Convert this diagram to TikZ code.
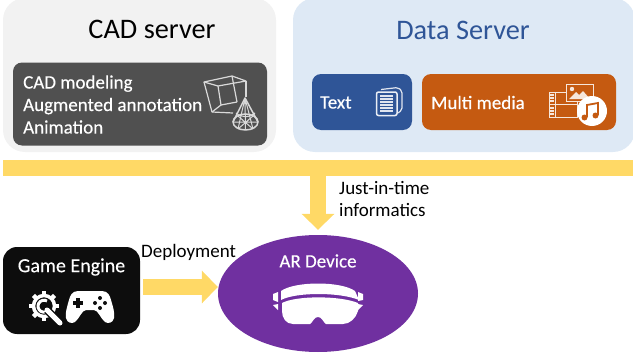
\documentclass[tikz,border=0pt]{standalone}
\usepackage{fontspec}
\setmainfont{Carlito}
\newfontfamily\heavyfont[FakeBold=0.25]{Carlito}
\usetikzlibrary{shapes.geometric,arrows.meta}
\definecolor{cadgray}{HTML}{F2F2F2}
\definecolor{cadbox}{HTML}{505050}
\definecolor{databg}{HTML}{DEE9F5}
\definecolor{datablue}{HTML}{2F5597}
\definecolor{mediaorange}{HTML}{C55A11}
\definecolor{baryellow}{HTML}{FFD966}
\definecolor{devicepurple}{HTML}{7030A0}
\definecolor{enginegray}{HTML}{0D0D0D}
\tikzset{
	server/.style={rectangle,rounded corners=22pt,inner sep=0pt},
	panel/.style={rectangle,rounded corners=9pt,inner sep=0pt},
	whitetxt/.style={text=white,inner sep=0pt,font=\heavyfont\fontsize{19}{22.5}\selectfont},
	blacktxt/.style={text=black,inner sep=0pt,font=\fontsize{19}{22}\selectfont},
	bigarrow/.style={line width=16pt,draw=baryellow,-{Triangle[length=16pt,width=32pt]}},
	wire/.style={draw=white!85!black,line width=1.2pt,line join=round},
}
\begin{document}
\begin{tikzpicture}[x=1pt,y=-1pt]
	\useasboundingbox (0,0) rectangle (633,356);
	\node [server,fill=cadgray,minimum width=273pt,minimum height=154pt] (cad) at (139.5,75) {};
	\node [server,fill=databg,minimum width=342pt,minimum height=154pt] (data) at (464,75) {};
	\node [text=black,inner sep=0pt,font=\fontsize{28.3}{30}\selectfont] (cadtitle) at (152,29) {CAD server};
	\node [text=datablue,inner sep=0pt,font=\fontsize{28.3}{30}\selectfont] (datatitle) at (463,30) {Data Server};
	\node [panel,fill=cadbox,minimum width=254pt,minimum height=83pt] (cadpanel) at (140,104) {};
	\node [panel,fill=datablue,minimum width=100pt,minimum height=56pt] (textpanel) at (362,102) {};
	\node [panel,fill=mediaorange,minimum width=194pt,minimum height=56pt] (mediapanel) at (519,102) {};
	\node [whitetxt,anchor=west,align=left] (cadtext) at (23,104.5) {CAD modeling\\Augmented annotation\\Animation};
	\node [whitetxt,anchor=west] (textlabel) at (320,102.5) {Text};
	\node [whitetxt,anchor=west] (medialabel) at (431,102.5) {Multi media};
	\node [rectangle,fill=baryellow,inner sep=0pt,minimum width=630pt,minimum height=16pt] (bar) at (318,168) {};
	\node [ellipse,fill=devicepurple,inner sep=0pt,minimum width=200pt,minimum height=117pt] (device) at (318,293.5) {};
	\node [panel,rounded corners=14pt,fill=enginegray,minimum width=137pt,minimum height=87pt] (engine) at (71.5,290.5) {};
	\node [whitetxt] (devicelabel) at (318,261) {AR Device};
	\node [whitetxt,font=\heavyfont\fontsize{20}{22}\selectfont] (enginelabel) at (71.5,267) {Game Engine};
	\node [blacktxt,anchor=west] (deploylabel) at (141,252) {Deployment};
	\node [blacktxt,anchor=west,align=left] (justlabel) at (339,199) {Just-in-time\\informatics};
	\draw [bigarrow,shorten >=5pt] (bar.south -| device.north) -- (device.north);
	\draw [bigarrow,shorten <=3pt] ([yshift=3.5pt]engine.east) -- ([yshift=3.5pt]engine.east -| device.west);
	\draw [wire] (204,82) -- (232,76) -- (246,81) -- (218,86) -- cycle;
	\draw [wire] (204,82) -- (212,112) -- (233,113);
	\draw [wire] (218,86) -- (221,105) -- (212,112);
	\draw [wire] (221,105) -- (237,102);
	\draw [wire] (232,76) -- (237,102);
	\draw [wire] (246,81) -- (246,97);
	\draw [wire,line width=1.5pt] (233,122) -- (245,98) -- (258,122);
	\draw [wire,line width=1.5pt] (245.5,122) ellipse [x radius=12.5,y radius=8];
	\draw [wire,line width=1pt] (245,98) -- (238,129) (245,98) -- (253,129) (245,98) -- (245.5,130);
	\draw [wire,line width=1pt] (236,113) .. controls (242,118) and (250,118) .. (255,113);
	\draw [wire,line width=1pt] (233,122) -- (258,122) (238,116) -- (253,129) (253,116) -- (238,129);
	\draw [white!85!datablue,line width=1.2pt,rounded corners=2pt] (381,89.5) -- (398,87.5) -- (402,91) -- (402,110) -- (398,113);
	\draw [white!90!datablue,line width=1.5pt,fill=datablue,rounded corners=2pt] (376.5,92) rectangle (397,115.5);
	\foreach \y in {96,99,102,105,108,111} {
		\draw [white!85!datablue,line width=1.3pt] (380,\y) -- (393,\y);
	}
	\draw [white!85!mediaorange,line width=1pt] (549,92) rectangle (577,117);
	\draw [white!85!mediaorange,line width=1pt] (555,92) -- (555,117) (549,104.5) -- (577,104.5);
	\foreach \y in {95,98,101,108,111,114} {
		\draw [white!85!mediaorange,line width=1.4pt] (550,\y) -- (554,\y);
	}
	\draw [white!85!mediaorange,line width=1pt,fill=mediaorange] (566,84) rectangle (593,101);
	\fill [white!85!mediaorange] (569,99) -- (576,92) -- (579,95) -- (583,91) -- (590,99) -- cycle;
	\fill [white!85!mediaorange] (572,89) circle [radius=2.2];
	\fill [white] (592,111) circle [radius=15];
	\draw [mediaorange,line width=1.8pt] (587,117) -- (587,105) -- (598,103) -- (598,115);
	\fill [mediaorange] (584.5,117.5) circle [radius=3] (595.5,115.5) circle [radius=3];
	\foreach \a in {0,45,...,315} {
		\draw [white,line width=4.5pt] (44,306) ++(\a:11) -- ++(\a:4);
	}
	\draw [white,line width=3.5pt] (44,306) circle [radius=10.5];
	\draw [white,line width=3pt] (47,301) arc [start angle=-60,end angle=-290,radius=6];
	\draw [enginegray,line width=8pt] (47,310) -- (60,323);
	\draw [white,line width=5pt,line cap=round] (47,310) -- (60,323);
	\fill [white] (78,291) -- (102,291) .. controls (108,291) and (110,296) .. (111,300) .. controls (113,307) and (115,313) .. (114,318) .. controls (113,323) and (108,324) .. (105,322) .. controls (101,319) and (98,310) .. (94,310) -- (86,310) .. controls (82,310) and (79,319) .. (75,322) .. controls (72,324) and (67,323) .. (66,318) .. controls (65,313) and (67,307) .. (69,300) .. controls (70,296) and (72,291) .. (78,291) -- cycle;
	\draw [enginegray,line width=3.2pt] (73,303) -- (83,303) (78,298) -- (78,308);
	\fill [enginegray] (100,298) circle [radius=2] (100,308) circle [radius=2] (95,303) circle [radius=2] (105,303) circle [radius=2];
	\fill [white] (281,291) .. controls (295,281) and (341,281) .. (355,291) -- (359,300) .. controls (340,292) and (296,292) .. (281,300) -- cycle;
	\fill [white] (282,303) .. controls (296,295.5) and (340,295.5) .. (358,303) -- (358,311) .. controls (356,318) and (350,324) .. (343,324) -- (326,324) .. controls (323,322) and (322,317) .. (318,317) .. controls (314,317) and (313,322) .. (310,324) -- (293,324) .. controls (286,324) and (282,318) .. (282,311) -- cycle;
	\fill [white] (273,294) -- (278,292) -- (278,302) -- (273,300) -- cycle (273,305) -- (278,304) -- (278,310) -- cycle;
	\fill [white] (363,294) -- (358,292) -- (358,301) -- (363,300) -- cycle (363,305) -- (358,304) -- (358,310) -- cycle;
\end{tikzpicture}
\end{document}
